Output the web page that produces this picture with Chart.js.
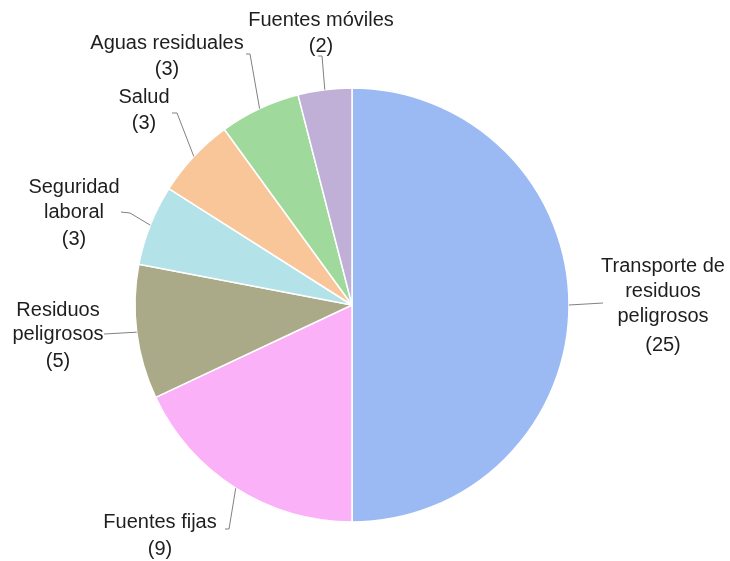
<!DOCTYPE html>
<html>
<head>
<meta charset="utf-8">
<script src="https://cdn.jsdelivr.net/npm/chart.js@4"></script>
<style>
  html, body { margin: 0; padding: 0; background: #fff; }
  #wrap { width: 730px; height: 561px; position: relative; }
</style>
</head>
<body>
<div id="wrap"><canvas id="pie"></canvas></div>
<script>
const categories = [
  "Transporte de residuos peligrosos",
  "Fuentes fijas",
  "Residuos peligrosos",
  "Seguridad laboral",
  "Salud",
  "Aguas residuales",
  "Fuentes móviles"
];
const counts = [25, 9, 5, 3, 3, 3, 2];
const sliceColors = ["#9bbaf3", "#fbb1f8", "#aaaa88", "#b3e2e8", "#f9c69a", "#a0d99c", "#c0b0d8"];

// label text lines, centre x and y of each line, leader line bends
const labelLines = [
  ["Transporte de", "residuos", "peligrosos", "(25)"],
  ["Fuentes fijas", "(9)"],
  ["Residuos", "peligrosos", "(5)"],
  ["Seguridad", "laboral", "(3)"],
  ["Salud", "(3)"],
  ["Aguas residuales", "(3)"],
  ["Fuentes móviles", "(2)"]
];
const labelX = [663, 160, 58, 74, 144, 167, 321];
const labelY = [
  [266, 291, 316, 345],
  [522, 549],
  [310, 334, 361],
  [187, 212, 239],
  [97, 123],
  [43, 69],
  [20, 46]
];
const leaderPts = [
  [[603, 303]],
  [[229, 529], [225, 529]],
  [[104, 334]],
  [[130, 213], [121, 212]],
  [[177, 113], [172, 113]],
  [[250, 54], [246, 54]],
  [[322, 56], [318, 56]]
];

const calloutLabels = {
  id: "calloutLabels",
  afterDatasetsDraw(chart) {
    const ctx = chart.ctx;
    const arcs = chart.getDatasetMeta(0).data;
    ctx.save();
    ctx.strokeStyle = "#808080";
    ctx.lineWidth = 1;
    arcs.forEach((arc, i) => {
      const mid = (arc.startAngle + arc.endAngle) / 2;
      const sx = arc.x + Math.cos(mid) * arc.outerRadius;
      const sy = arc.y + Math.sin(mid) * arc.outerRadius;
      ctx.beginPath();
      ctx.moveTo(sx, sy);
      leaderPts[i].forEach(p => ctx.lineTo(p[0], p[1]));
      ctx.stroke();
    });
    ctx.fillStyle = "#1e1e1e";
    ctx.font = "20px 'Liberation Sans', Arial, sans-serif";
    ctx.textAlign = "center";
    ctx.textBaseline = "middle";
    labelLines.forEach((lines, i) => {
      lines.forEach((t, j) => ctx.fillText(t, labelX[i], labelY[i][j]));
    });
    ctx.restore();
  }
};

new Chart(document.getElementById("pie"), {
  type: "pie",
  data: {
    labels: categories,
    datasets: [{
      data: counts,
      backgroundColor: sliceColors,
      borderColor: "#ffffff",
      borderWidth: 1.5
    }]
  },
  options: {
    responsive: true,
    maintainAspectRatio: false,
    animation: false,
    radius: 217,
    layout: { padding: { top: 88, bottom: 39, left: 135, right: 161 } },
    plugins: {
      legend: { display: false },
      tooltip: { enabled: false }
    }
  },
  plugins: [calloutLabels]
});
</script>
</body>
</html>
